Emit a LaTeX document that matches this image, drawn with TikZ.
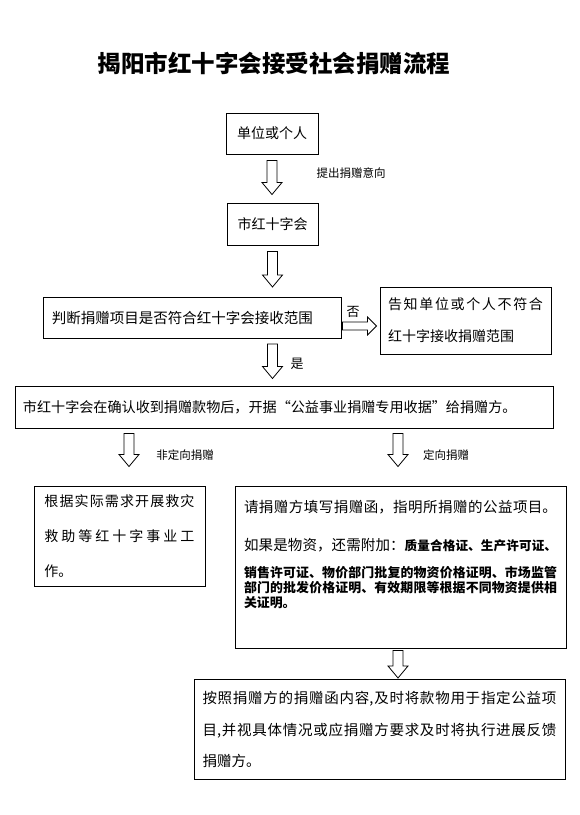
\documentclass[tikz,border=0pt]{standalone}
\usepackage{fontspec}
\setmainfont{Noto Sans CJK SC}
\XeTeXlinebreaklocale "zh"
\XeTeXlinebreakskip=0pt plus 4pt
\usetikzlibrary{calc}

\newcommand{\fsz}[2]{\fontsize{#1}{#2}\selectfont}
\newcommand{\openq}{\makebox[14.1pt][r]{“}}
\newcommand{\closeq}{\makebox[14.1pt][l]{”}}

\tikzset{
  box/.style={draw, line width=1pt, inner sep=0pt},
  hollow/.style={draw, line width=0.8pt, fill=white},
  lbl/.style={font=\fsz{11.5}{12}},
}

% hollow block arrows: #1 start, #2 tip
\newcommand{\downarr}[2]{%
  \draw[hollow] let \p1=#1, \p2=#2 in
    (\x1-5pt,\y1) -- (\x1+5pt,\y1) -- (\x1+5pt,\y2+12pt) -- (\x1+10pt,\y2+12pt)
    -- (\x1,\y2) -- (\x1-10pt,\y2+12pt) -- (\x1-5pt,\y2+12pt) -- cycle;}
\newcommand{\rightarr}[2]{%
  \draw[hollow] let \p1=#1, \p2=#2 in
    (\x1,\y1+4pt) -- (\x2-9pt,\y1+4pt) -- (\x2-9pt,\y1+9pt) -- (\x2,\y1)
    -- (\x2-9pt,\y1-9pt) -- (\x2-9pt,\y1-4pt) -- (\x1,\y1-4pt) -- cycle;}

\begin{document}
\begin{tikzpicture}[x=1pt, y=-1pt]
    \useasboundingbox (0,0) rectangle (580,815);

    \node[font=\bfseries\fsz{23.5}{23.5}] (title) at (274,63) {揭阳市红十字会接受社会捐赠流程};

    % top of the chain
    \node[box, minimum width=92pt, minimum height=41pt, font=\fsz{14}{14}] (donor) at (272,133.5) {单位或个人};
    \node[box, minimum width=91pt, minimum height=42pt, font=\fsz{14}{14}] (redcross) at (272.5,224) {市红十字会};
    \node[box, minimum width=298pt, minimum height=41pt, text width=280pt, align=left, font=\fsz{14.5}{14.5}] (judge) at (192,318) {判断捐赠项目是否符合红十字会接收范围};
    \node[box, minimum width=171pt, minimum height=67pt, text width=155pt, align=justify, font=\fsz{14}{32}] (notify) at (465.5,320.5) {告知单位或个人不符合\linebreak 红十字接收捐赠范围};
    \node[box, minimum width=538pt, minimum height=42pt, text width=522pt, align=left, font=\fsz{14.1}{14}] (receipt) at (284,407) {市红十字会在确认收到捐赠款物后，开据\openq 公益事业捐赠专用收据\closeq 给捐赠方。};

    % two branches
    \node[box, minimum width=171pt, minimum height=100pt, text width=150pt, align=justify, font=\fsz{14}{35}] (relief) at (119.5,536) {根据实际需求开展救灾\linebreak 救助等红十字事业工\linebreak 作。};
    \node[box, minimum width=331pt, minimum height=162pt, text width=313pt, align=justify, font=\fsz{14.5}{15}] (directed) at (400.5,567) {请捐赠方填写捐赠函，指明所捐赠的公益项目。\vadjust{\vskip 23pt}\linebreak 如果是物资，还需附加：{\bfseries\fsz{12.6}{15}质量合格证、生产许可证、}\vadjust{\vskip 12pt}\linebreak {\bfseries\fsz{12.9}{15}销售许可证、物价部门批复的物资价格证明、市场监管\linebreak 部门的批发价格证明、有效期限等根据不同物资提供相\linebreak 关证明。}\par\rule{0pt}{24pt}};
    \node[box, minimum width=371pt, minimum height=100pt, text width=354pt, align=justify, font=\fsz{14.5}{31.5}] (execute) at (379.5,729.5) {按照捐赠方的捐赠函内容,及时将款物用于指定公益项\linebreak 目,并视具体情况或应捐赠方要求及时将执行进展反馈\linebreak 捐赠方。};

    % arrows
    \downarr{($(donor.south)+(0,6)$)}{($(redcross.north)+(0,-8)$)}
    \downarr{($(redcross.south)+(0,6)$)}{($(redcross.south |- judge.north)+(0,-10)$)}
    \rightarr{($(judge.east)+(1,8)$)}{($(notify.west |- judge.east)+(-3,8)$)}
    \downarr{($(judge.south -| redcross.south)+(0,5)$)}{($(receipt.north -| redcross.south)+(0,-7)$)}
    \downarr{($(receipt.south)+(-155,5)$)}{($(relief.north)+(9.5,-19)$)}
    \downarr{($(receipt.south)+(114,5)$)}{($(directed.north)+(-2.5,-19)$)}
    \downarr{($(directed.south)+(-2.5,2)$)}{($(execute.north)+(18.5,-1)$)}

    % arrow labels
    \node[lbl] (intent) at (351,173) {提出捐赠意向};
    \node[font=\fsz{13}{13}] (no) at (353,312) {否};
    \node[font=\fsz{13}{13}] (yes) at (297,364) {是};
    \node[lbl] (undirected) at (185,455) {非定向捐赠};
    \node[lbl] (directedlbl) at (446,455) {定向捐赠};
\end{tikzpicture}
\end{document}
